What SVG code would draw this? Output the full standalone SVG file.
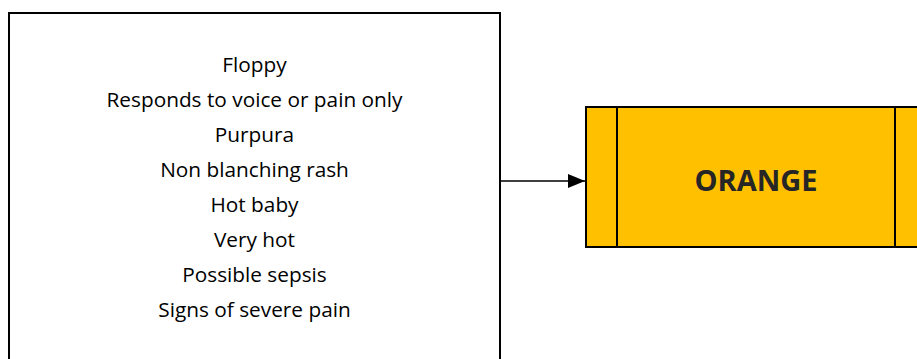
<svg xmlns="http://www.w3.org/2000/svg" width="917" height="359" viewBox="0 0 917 359">
<defs>
<style>
.t{font-family:"Open Sans","Liberation Sans",sans-serif;font-size:20.8px;fill:#000;text-anchor:middle}
.b{font-family:"Open Sans","Liberation Sans",sans-serif;font-size:29px;font-weight:bold;fill:#262626;text-anchor:middle}
</style>
<marker id="ah" markerWidth="18" markerHeight="14" refX="17" refY="7" orient="auto" markerUnits="userSpaceOnUse">
<path d="M0,0 L17,7 L0,14 Z" fill="#000"/>
</marker>
</defs>
<rect width="917" height="359" fill="#fff"/>
<g id="criteria">
<rect x="9" y="13" width="491" height="360" fill="#fff" stroke="#000" stroke-width="2"/>
<text class="t" x="254.5" y="72">Floppy</text>
<text class="t" x="254.5" y="107">Responds to voice or pain only</text>
<text class="t" x="254.5" y="142">Purpura</text>
<text class="t" x="254.5" y="177">Non blanching rash</text>
<text class="t" x="254.5" y="212">Hot baby</text>
<text class="t" x="254.5" y="247">Very hot</text>
<text class="t" x="254.5" y="282">Possible sepsis</text>
<text class="t" x="254.5" y="317">Signs of severe pain</text>
</g>
<g id="orange">
<rect x="586" y="107" width="340" height="140" fill="#FFC000" stroke="#000" stroke-width="2"/>
<line x1="617" y1="107" x2="617" y2="247" stroke="#000" stroke-width="2"/>
<line x1="895" y1="107" x2="895" y2="247" stroke="#000" stroke-width="2"/>
<text class="b" x="756" y="191">ORANGE</text>
</g>
<g id="connectors">
<line x1="500" y1="181" x2="585" y2="181" stroke="#000" stroke-width="1.5" marker-end="url(#ah)"/>
</g>
</svg>
